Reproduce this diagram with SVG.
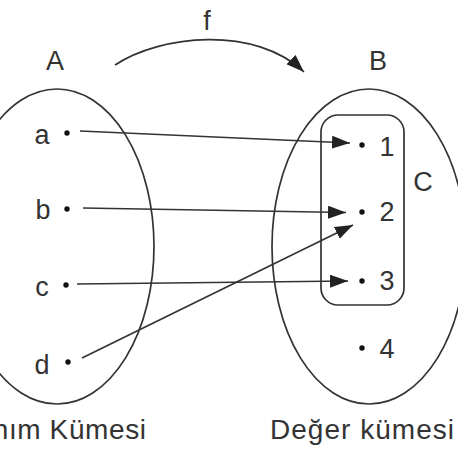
<svg xmlns="http://www.w3.org/2000/svg" width="458" height="458" viewBox="0 0 458 458">
<style>
.set{fill:none;stroke:#333;stroke-width:1.7}
.ln{fill:none;stroke:#333;stroke-width:1.7}
.t{font-family:"Liberation Sans",Arial,sans-serif;font-size:27px;fill:#333;text-anchor:middle}
.tl{font-family:"Liberation Sans",Arial,sans-serif;font-size:28px;fill:#333}
.dot{fill:#111}
</style>
<defs>
<marker id="ah" markerUnits="userSpaceOnUse" markerWidth="20" markerHeight="14" refX="18" refY="6.5" orient="auto">
<path d="M0,0 L18,6.5 L0,13 z" fill="#222"/>
</marker>
</defs>
<rect width="458" height="458" fill="#fff"/>
<g id="setA">
<ellipse class="set" cx="57" cy="246.5" rx="97" ry="157.5"/>
<text class="t" x="55" y="70">A</text>
<text class="tl" x="-38" y="439" textLength="184" lengthAdjust="spacing">Tanım Kümesi</text>
</g>
<g id="setB">
<ellipse class="set" cx="369" cy="246.5" rx="97" ry="157.5"/>
<text class="t" x="378" y="70">B</text>
<text class="tl" x="270" y="439" textLength="184" lengthAdjust="spacing">Değer kümesi</text>
</g>
<g id="setC">
<rect class="set" x="321" y="115" width="83" height="190" rx="17" ry="17"/>
<text class="t" x="423" y="191">C</text>
</g>
<g id="a"><circle class="dot" cx="67" cy="133" r="2.7"/><text class="t" x="42" y="144">a</text></g>
<g id="b"><circle class="dot" cx="67" cy="209" r="2.7"/><text class="t" x="43" y="219">b</text></g>
<g id="c"><circle class="dot" cx="66" cy="285" r="2.7"/><text class="t" x="42" y="296">c</text></g>
<g id="d"><circle class="dot" cx="68" cy="362" r="2.7"/><text class="t" x="42" y="374">d</text></g>
<g id="n1"><circle class="dot" cx="362" cy="145" r="2.7"/><text class="t" x="387" y="156">1</text></g>
<g id="n2"><circle class="dot" cx="362" cy="212" r="2.7"/><text class="t" x="387" y="221">2</text></g>
<g id="n3"><circle class="dot" cx="362" cy="281" r="2.7"/><text class="t" x="387" y="290">3</text></g>
<g id="n4"><circle class="dot" cx="362" cy="348" r="2.7"/><text class="t" x="387" y="358">4</text></g>
<g id="connectors">
<line class="ln" x1="80" y1="131" x2="350" y2="143" marker-end="url(#ah)"/>
<line class="ln" x1="83" y1="208" x2="346" y2="212.5" marker-end="url(#ah)"/>
<line class="ln" x1="77" y1="284" x2="348" y2="281" marker-end="url(#ah)"/>
<line class="ln" x1="82" y1="358" x2="353" y2="225" marker-end="url(#ah)"/>
<path class="ln" d="M115,65 C160,35 255,25 304,72" marker-end="url(#ah)"/>
<text class="t" x="207" y="30">f</text>
</g>
</svg>
